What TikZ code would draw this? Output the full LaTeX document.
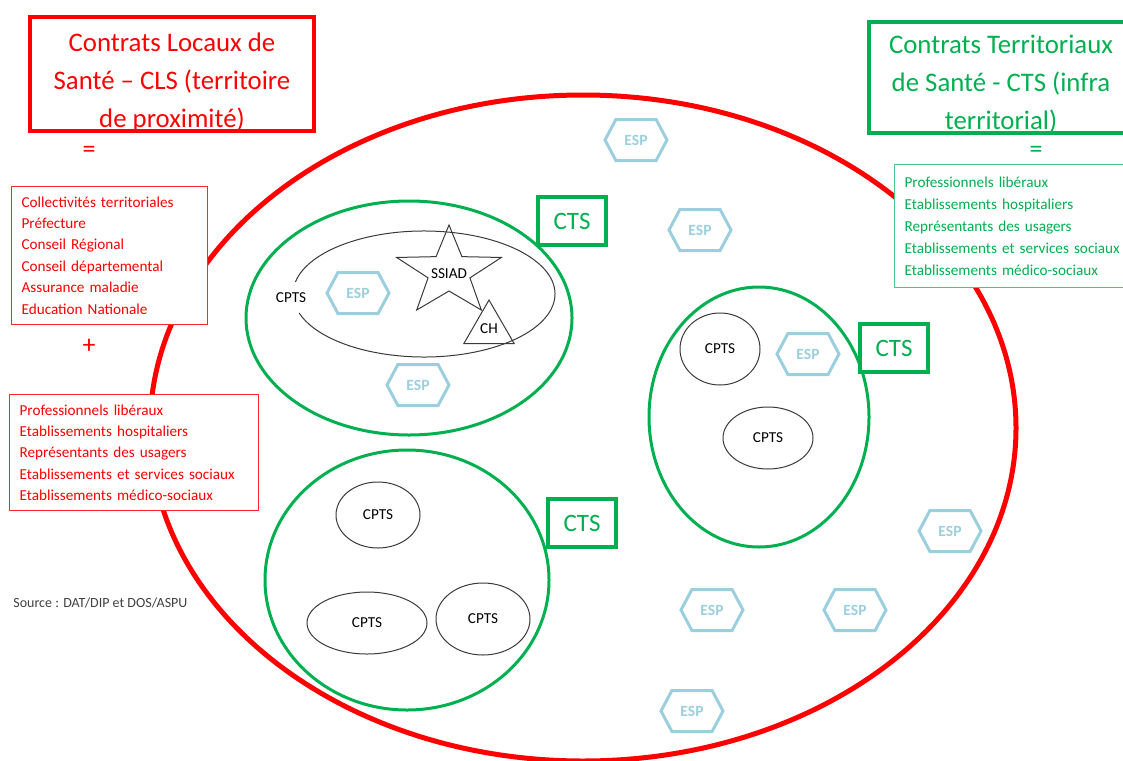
\documentclass[tikz,border=0pt]{standalone}
\usepackage{fontspec}
\setmainfont{Carlito}
\usetikzlibrary{shapes.symbols, shapes.geometric}
\definecolor{clsred}{HTML}{FF0000}
\definecolor{ctsgreen}{HTML}{00B050}
\definecolor{espblue}{HTML}{9BCFDD}
\definecolor{cptsgrey}{HTML}{3A3A3A}
\definecolor{srcgrey}{HTML}{404040}

\begin{document}
\begin{tikzpicture}[x=0.5pt, y=-0.5pt,
  titlebox/.style={draw, line width=2pt, inner sep=0pt},
  titletext/.style={align=center, inner sep=0pt, font=\fontsize{13.4}{19}\selectfont},
  listbox/.style={draw, fill=white, line width=0.6pt, anchor=north west, align=left, inner xsep=5pt, inner ysep=5pt, font=\fontsize{7.6}{10.7}\selectfont},
  sign/.style={inner sep=0pt, font=\fontsize{13}{15}\selectfont},
  ctsbox/.style={draw=ctsgreen, fill=white, line width=1.8pt, text=ctsgreen, minimum width=34pt, minimum height=24pt, font=\fontsize{12.5}{15}\selectfont},
  esp/.style={signal, signal to=east and west, signal pointer angle=124, draw=espblue, line width=1.5pt, text=espblue, minimum width=31pt, minimum height=20.5pt, inner sep=0pt, font=\bfseries\fontsize{7.8}{9}\selectfont},
  cpts/.style={inner sep=0pt, text=black, font=\fontsize{7.6}{9}\selectfont},
  cptsell/.style={cpts, ellipse, draw=cptsgrey, line width=0.5pt},
  zone/.style={draw=ctsgreen, line width=1.5pt}
]
\useasboundingbox (0,0) rectangle (1123,760);
\clip (0,0) rectangle (1123,760);

\draw[clsred, line width=2.5pt] (583,428) ellipse (433 and 333);

\draw[zone] (409,318) ellipse (163 and 117);
\draw[zone] (759,417) ellipse (110 and 130);
\draw[zone] (407,580) ellipse (142 and 130);

\draw[cptsgrey, line width=0.5pt] (424,294) ++(191:131 and 63) arc[start angle=191, end angle=522.5, x radius=131, y radius=63];
\draw[cptsgrey, line width=0.5pt, shift={(449,272)}] (270:55 and 47) -- (306:22 and 19) -- (342:55 and 47) -- (18:22 and 19) -- (54:55 and 47) -- (90:22 and 19) -- (126:55 and 47) -- (162:22 and 19) -- (198:55 and 47) -- (234:22 and 19) -- cycle;
\node[cpts] (cptsa) at (291,298) {CPTS};
\node[cpts] (ssiad) at (449,274) {SSIAD};
\node[cpts, regular polygon, regular polygon sides=3, draw=cptsgrey, line width=0.5pt, minimum size=29pt] (ch) at (489,329) {CH};

\node[cptsell, minimum width=40pt, minimum height=36pt] (cptsb) at (720,349) {CPTS};
\node[cptsell, minimum width=45pt, minimum height=31pt] (cptsc) at (768,438) {CPTS};
\node[cptsell, minimum width=42pt, minimum height=33pt] (cptsd) at (378,515) {CPTS};
\node[cptsell, minimum width=60pt, minimum height=31pt] (cptse) at (367,623) {CPTS};
\node[cptsell, minimum width=47pt, minimum height=36pt] (cptsf) at (483,619) {CPTS};

\node[esp] (espa) at (636,140) {ESP};
\node[esp] (espb) at (700,230) {ESP};
\node[esp] (espc) at (358,293) {ESP};
\node[esp] (espd) at (418,385) {ESP};
\node[esp] (espe) at (808,354) {ESP};
\node[esp] (espf) at (950,531) {ESP};
\node[esp] (espg) at (712,610) {ESP};
\node[esp] (esph) at (855,610) {ESP};
\node[esp] (espi) at (692,711) {ESP};

\node[ctsbox] (ctsa) at (572,221) {CTS};
\node[ctsbox] (ctsb) at (894,348) {CTS};
\node[ctsbox] (ctsc) at (582,523) {CTS};

\node[titlebox, draw=clsred, minimum width=142pt, minimum height=57pt] (clsbox) at (172,74) {};
\node[titletext, text=clsred] (clstitle) at (172,82) {Contrats Locaux de\\Santé – CLS (territoire\\de proximité)};
\node[titlebox, draw=ctsgreen, minimum width=135.5pt, minimum height=55.5pt] (ctsbox) at (1004.5,77.5) {};
\node[titletext, text=ctsgreen] (ctstitle) at (1001,84) {Contrats Territoriaux\\de Santé - CTS (infra\\territorial)};

\node[sign, text=clsred] (clseq) at (89,152) {=};
\node[sign, text=clsred] (clsplus) at (89,346) {+};
\node[sign, text=ctsgreen] (ctseq) at (1036,152) {=};

\node[listbox, draw=clsred!85, text=clsred, text width=88pt] (clslist) at (11,186) {Collectivités territoriales\\Préfecture\\Conseil Régional\\Conseil départemental\\Assurance maladie\\Education Nationale};
\node[listbox, draw=clsred!85, text=clsred, text width=114.5pt] (clspros) at (9,394) {Professionnels libéraux\\Etablissements hospitaliers\\Représentants des usagers\\Etablissements et services sociaux\\Etablissements médico-sociaux};
\node[listbox, draw=ctsgreen!70, text=ctsgreen, text width=120pt, inner ysep=6pt, font=\fontsize{7.6}{11}\selectfont] (ctslist) at (894,164) {Professionnels libéraux\\Etablissements hospitaliers\\Représentants des usagers\\Etablissements et services sociaux\\Etablissements médico-sociaux};

\node[anchor=west, inner sep=0pt, text=srcgrey, font=\fontsize{7}{9}\selectfont] (source) at (13,603) {Source : DAT/DIP et DOS/ASPU};
\end{tikzpicture}
\end{document}
